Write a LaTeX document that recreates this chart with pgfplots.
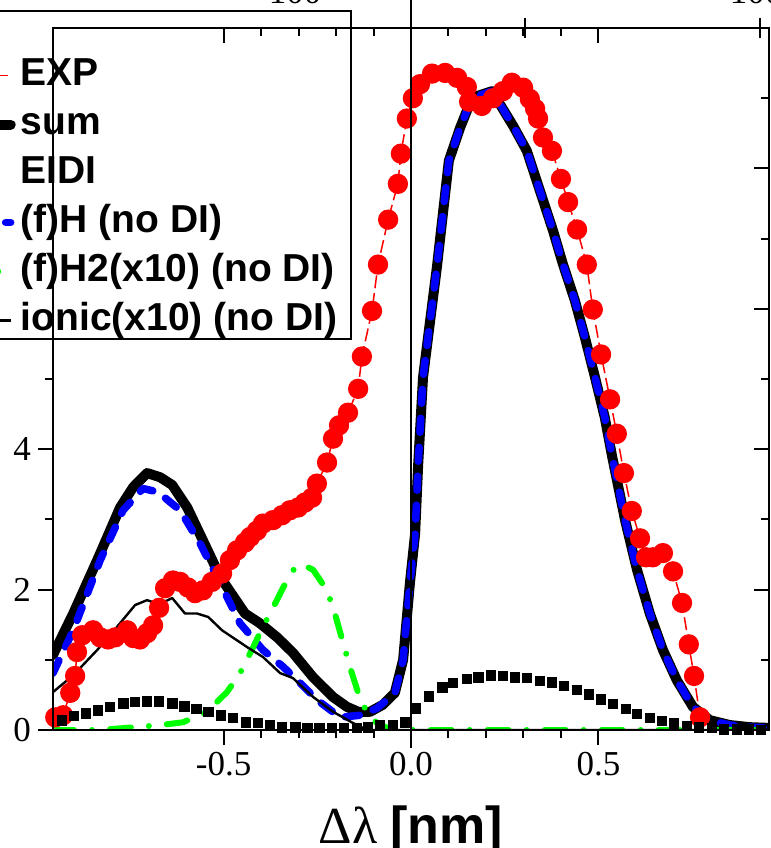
\documentclass[border=0pt]{standalone}
\usepackage{fontspec}
\setmainfont{Liberation Serif}
\setsansfont{Liberation Sans}
\usepackage{pgfplots}
\pgfplotsset{compat=1.18}
\newcommand\lstrut{\rule{0pt}{20.5pt}}
\begin{document}
\begin{tikzpicture}[x=1pt,y=1pt]
\begin{axis}[
  at={(0,0)}, anchor=south west,
  scale only axis, width=358pt, height=351pt,
  xmin=-0.955, xmax=0.955, ymin=0, ymax=10,
  axis line style={line width=1pt},
  xtick={-0.5,0,0.5}, xticklabels={-0.5,0.0,0.5},
  minor x tick num=4,
  ytick={0,2,4,6,8,10}, minor y tick num=1,
  xtick pos=bottom, ytick pos=left, tick align=outside,
  major tick length=7.5pt, minor tick length=4pt,
  every tick/.style={line width=1pt, black},
  tick label style={font=\fontsize{17.5}{20}\selectfont},
  /pgf/number format/assume math mode=true,
  xlabel={\fontsize{26}{30}\selectfont Δλ \sffamily\bfseries [nm]},
  xlabel style={at={(axis description cs:0.5,0)}, anchor=base, yshift=-56.5pt, inner sep=0pt},
  legend style={at={(0.4176,1.0256)}, anchor=north east, draw=black, line width=1pt, fill=white,
    font=\fontsize{19.5}{24.5}\selectfont\sffamily\bfseries,
    inner xsep=7pt, inner ysep=0.5pt, row sep=0pt,
    nodes={inner sep=0pt, text depth=4pt},
    /tikz/every odd column/.append style={column sep=2.5pt}},
  legend cell align=left,
]
\addlegendimage{empty legend}\addlegendentry{\rule{0pt}{12pt}}
\addplot[red, line width=0.75pt, dash pattern=on 6.5pt off 2.5pt, mark=*, mark size=4.7pt, mark options={solid, fill=red, draw=red},
  legend image code/.code={\draw[red, line width=0.75pt] (0pt,-3.5pt) -- (17pt,-3.5pt); \fill[red] (4pt,-3.5pt) circle (4.7pt);}] coordinates {
(-0.949,0.18) (-0.928,0.21) (-0.909,0.53) (-0.896,0.77) (-0.891,1.11) (-0.877,1.35) (-0.848,1.42) (-0.829,1.32) (-0.808,1.29) (-0.789,1.32) (-0.757,1.42) (-0.741,1.31) (-0.723,1.29) (-0.704,1.38) (-0.688,1.49) (-0.672,1.74) (-0.656,2.02) (-0.635,2.13) (-0.616,2.11) (-0.595,2.03) (-0.576,1.95) (-0.555,1.99) (-0.531,2.11) (-0.504,2.23) (-0.483,2.42) (-0.464,2.56) (-0.443,2.67) (-0.429,2.75) (-0.411,2.84) (-0.395,2.94) (-0.368,2.99) (-0.344,3.06) (-0.323,3.13) (-0.301,3.17) (-0.283,3.24) (-0.264,3.31) (-0.251,3.51) (-0.224,3.81) (-0.208,4.15) (-0.192,4.34) (-0.168,4.52) (-0.141,4.86) (-0.131,5.32) (-0.104,5.97) (-0.088,6.63) (-0.061,7.27) (-0.035,7.78) (-0.027,8.21) (-0.011,8.71) (0.005,9.00) (0.024,9.20) (0.056,9.35) (0.091,9.36) (0.123,9.29) (0.149,9.16) (0.155,8.95) (0.189,8.89) (0.219,9.00) (0.245,9.10) (0.269,9.22) (0.299,9.15) (0.317,8.99) (0.331,8.85) (0.339,8.71) (0.352,8.44) (0.376,8.25) (0.400,7.85) (0.419,7.52) (0.443,7.13) (0.469,6.63) (0.485,5.99) (0.507,5.35) (0.531,4.71) (0.549,4.22) (0.568,3.66) (0.589,3.12) (0.611,2.73) (0.627,2.46) (0.645,2.46) (0.672,2.52) (0.699,2.26) (0.723,1.81) (0.741,1.22) (0.755,0.77) (0.771,0.18)
};
\addlegendentry{\lstrut EXP}
\addplot[black, line width=5pt, line cap=round, line join=round,
  legend image code/.code={\draw[black, line width=5pt, line cap=round] (0pt,-3.5pt) -- (17pt,-3.5pt);}] coordinates {
(-0.955,1.07) (-0.901,1.66) (-0.837,2.42) (-0.776,3.17) (-0.741,3.46) (-0.704,3.66) (-0.669,3.60) (-0.637,3.49) (-0.597,3.17) (-0.555,2.70) (-0.509,2.18) (-0.443,1.66) (-0.403,1.52) (-0.357,1.32) (-0.315,1.10) (-0.261,0.75) (-0.208,0.47) (-0.171,0.33) (-0.141,0.26) (-0.109,0.26) (-0.075,0.36) (-0.043,0.53) (-0.021,1.00) (-0.003,2.09) (0.011,2.80) (0.019,3.77) (0.032,5.02) (0.051,5.83) (0.069,6.59) (0.085,7.35) (0.101,8.11) (0.131,8.58) (0.152,8.86) (0.176,9.03) (0.216,9.10) (0.272,8.61) (0.309,8.25) (0.344,7.68) (0.379,7.11) (0.405,6.64) (0.437,6.12) (0.464,5.59) (0.491,5.02) (0.517,4.45) (0.536,3.91) (0.571,2.99) (0.603,2.28) (0.637,1.66) (0.672,1.14) (0.709,0.71) (0.752,0.33) (0.797,0.14) (0.851,0.07) (0.904,0.04) (0.955,0.03)
};
\addlegendentry{\lstrut sum}
\addplot[black, only marks, mark=square*, mark size=2.4pt,
  legend image code/.code={\fill[black] (1.6pt,-5.9pt) rectangle (6.4pt,-1.1pt);}] coordinates {
(-0.931,0.14) (-0.899,0.20) (-0.867,0.24) (-0.835,0.28) (-0.803,0.33) (-0.768,0.38) (-0.736,0.40) (-0.704,0.41) (-0.672,0.41) (-0.637,0.38) (-0.605,0.34) (-0.573,0.30) (-0.541,0.26) (-0.507,0.21) (-0.475,0.17) (-0.440,0.11) (-0.408,0.10) (-0.376,0.07) (-0.344,0.04) (-0.309,0.04) (-0.277,0.03) (-0.245,0.03) (-0.211,0.03) (-0.179,0.03) (-0.144,0.03) (-0.115,0.04) (-0.083,0.07) (-0.048,0.07) (-0.016,0.11) (0.013,0.31) (0.048,0.48) (0.083,0.61) (0.112,0.67) (0.149,0.73) (0.179,0.75) (0.213,0.78) (0.245,0.77) (0.277,0.75) (0.309,0.74) (0.344,0.70) (0.376,0.68) (0.408,0.63) (0.443,0.57) (0.475,0.51) (0.507,0.44) (0.539,0.37) (0.573,0.30) (0.603,0.23) (0.637,0.17) (0.669,0.13) (0.701,0.09) (0.736,0.06) (0.768,0.04) (0.803,0.03) (0.835,0.01) (0.869,0.01) (0.901,0.01) (0.933,0.00)
};
\addlegendentry{\lstrut EIDI}
\addplot[blue, line width=3.75pt, line cap=round, line join=round, dash pattern=on 7pt off 7.5pt,
  legend image code/.code={\draw[blue, line width=3.75pt, line cap=round] (0pt,-3.5pt) -- (17pt,-3.5pt);}] coordinates {
(-0.955,0.81) (-0.901,1.42) (-0.829,2.42) (-0.768,3.13) (-0.715,3.44) (-0.675,3.39) (-0.616,3.13) (-0.563,2.66) (-0.509,2.09) (-0.456,1.52) (-0.395,1.14) (-0.341,0.90) (-0.296,0.67) (-0.251,0.43) (-0.189,0.18) (-0.136,0.21) (-0.091,0.31) (-0.064,0.43) (-0.043,0.53) (-0.021,1.00) (-0.003,2.09) (0.011,2.80) (0.019,3.77) (0.032,5.02) (0.051,5.83) (0.069,6.59) (0.085,7.35) (0.101,8.11) (0.131,8.58) (0.152,8.86) (0.176,9.03) (0.216,9.10) (0.272,8.61) (0.309,8.25) (0.344,7.68) (0.379,7.11) (0.405,6.64) (0.437,6.12) (0.464,5.59) (0.491,5.02) (0.517,4.45) (0.536,3.91) (0.571,2.99) (0.603,2.28) (0.637,1.66) (0.672,1.14) (0.709,0.71) (0.752,0.33) (0.797,0.14) (0.851,0.07) (0.904,0.04) (0.955,0.03)
};
\addlegendentry{\lstrut (f)H (no DI)}
\addplot[color={rgb,255:red,0;green,255;blue,0}, line width=3pt, line cap=round, line join=round, dash pattern=on 10.5pt off 9pt on 0pt off 9pt,
  legend image code/.code={\draw[color={rgb,255:red,0;green,255;blue,0}, line width=3.5pt, line cap=round] (0pt,-3.5pt) -- (17pt,-3.5pt);}] coordinates {
(-0.955,0) (-0.829,0) (-0.669,0.07) (-0.608,0.11) (-0.544,0.26) (-0.491,0.54) (-0.456,0.81) (-0.421,1.18) (-0.395,1.47) (-0.371,1.71) (-0.341,2.03) (-0.309,2.32) (-0.290,2.36) (-0.261,2.28) (-0.224,1.99) (-0.203,1.66) (-0.189,1.39) (-0.163,0.90) (-0.141,0.53) (-0.117,0.24) (-0.091,0.10) (-0.064,0.03) (-0.029,0) (0.2,0) (0.5,0) (0.955,0)
};
\addlegendentry{\lstrut (f)H2(x10) (no DI)}
\addplot[black, line width=1.2pt, line join=round,
  legend image code/.code={\draw[black, line width=1.5pt] (0pt,-3.5pt) -- (17pt,-3.5pt);}] coordinates {
(-0.955,0.54) (-0.901,0.78) (-0.837,1.14) (-0.784,1.47) (-0.736,1.78) (-0.704,1.85) (-0.672,1.79) (-0.637,1.88) (-0.603,1.66) (-0.571,1.66) (-0.541,1.61) (-0.504,1.42) (-0.437,1.18) (-0.395,1.04) (-0.349,0.81) (-0.315,0.74) (-0.261,0.47) (-0.208,0.26) (-0.155,0.10) (-0.117,0) (0,0) (0.955,0)
};
\addlegendentry{\lstrut ionic(x10) (no DI)}
\end{axis}
\begin{axis}[
  at={(0,0)}, anchor=south west,
  scale only axis, width=358pt, height=351pt,
  xmin=-0.955, xmax=0.955, ymin=0, ymax=10,
  axis line style={line width=1pt},
  xtick={-0.5,0,0.5}, minor x tick num=4,
  ytick={0,2,4,6,8,10}, minor y tick num=1,
  xticklabels={}, yticklabels={},
  xtick pos=top, ytick pos=right, tick align=inside,
  major tick length=7.5pt, minor tick length=4pt,
  every tick/.style={line width=1pt, black},
  extra x ticks={0.304,0.931}, extra x tick labels={},
  extra x tick style={major tick length=10pt, tick align=center},
  clip=false,
]
\addplot[black, line width=0.8pt, forget plot] coordinates {(0,-0.25) (0,10.6)};
\node[font=\fontsize{17.5}{20}\selectfont, anchor=base] at (rel axis cs:0.338,1.0356) {100};
\node[font=\fontsize{17.5}{20}\selectfont, anchor=base] at (rel axis cs:0.982,1.0356) {100};
\end{axis}
\pgfresetboundingbox
\useasboundingbox (-26.5pt,-59pt) rectangle (359pt,365pt);
\end{tikzpicture}
\end{document}
